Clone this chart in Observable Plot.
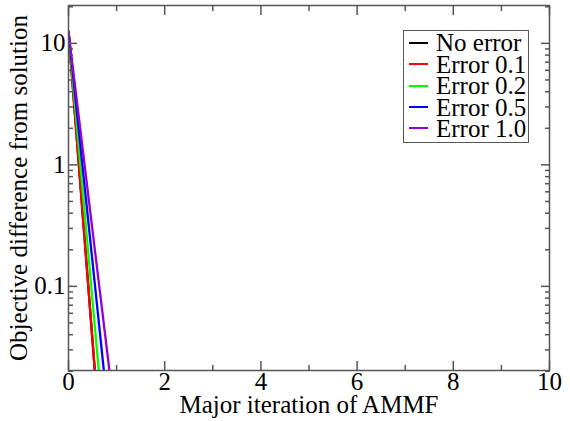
<!DOCTYPE html>
<html>
<head>
<meta charset="utf-8">
<script src="https://cdn.jsdelivr.net/npm/d3@7"></script>
<script src="https://cdn.jsdelivr.net/npm/@observablehq/plot@0.6"></script>
<style>
  body { margin: 0; background: #fff; }
  #wrap { position: relative; width: 570px; height: 421px; font-family: "Liberation Serif", "DejaVu Serif", serif; }
  #legend { position: absolute; left: 403px; top: 30px; width: 124px; height: 111px; border: 1.5px solid #555; background: #fff; box-sizing: content-box; }
  .row { position: absolute; left: 0; height: 21px; display: flex; align-items: center; }
  .sw { width: 19px; height: 2px; margin-left: 5px; margin-right: 8px; }
  .lab { font-size: 25px; line-height: 21px; color: #000; white-space: nowrap; }
</style>
</head>
<body>
<div id="wrap"></div>
<script>
const iterations = [0, 1];
const seriesNames = ["No error", "Error 0.1", "Error 0.2", "Error 0.5", "Error 1.0"];
const seriesColors = ["#000000", "#ff0000", "#00ff00", "#0000ff", "#9400d3"];
const noError  = [12.5, 1.0e-4];
const error01  = [12.5, 1.0e-4];
const error02  = [12.5, 4.6e-4];
const error05  = [12.5, 2.0e-3];
const error10  = [12.5, 6.6e-3];
const xTicks = [0, 2, 4, 6, 8, 10];
const xMinorTicks = [1, 3, 5, 7, 9];
const yTicks = [0.1, 1, 10];
const yTickLabels = ["0.1", "1", "10"];
const yMinorTicks = [0.02,0.03,0.04,0.05,0.06,0.07,0.08,0.09,0.2,0.3,0.4,0.5,0.6,0.7,0.8,0.9,2,3,4,5,6,7,8,9,20];
const xLabel = "Major iteration of AMMF";
const yLabel = "Objective difference from solution";

const allSeries = [noError, error01, error02, error05, error10];
const rows = [];
allSeries.forEach((vals, i) => {
  iterations.forEach((x, j) => rows.push({series: seriesNames[i], x, y: vals[j]}));
});

const axisStroke = "#555";
const fontFam = "Liberation Serif, DejaVu Serif, serif";
const fs = 25;

const chart = Plot.plot({
  width: 570,
  height: 421,
  marginLeft: 68,
  marginRight: 21,
  marginTop: 5,
  marginBottom: 51,
  style: {fontFamily: fontFam, fontSize: fs + "px", color: "#000", background: "#fff"},
  x: {domain: [0, 10]},
  y: {type: "log", domain: [0.0203, 20.5]},
  color: {domain: seriesNames, range: seriesColors},
  marks: [
    Plot.line(rows, {x: "x", y: "y", z: "series", stroke: "series", strokeWidth: 2.3, clip: true}),
    // bottom axis
    Plot.axisX({ticks: xTicks, tickSize: -9, tickPadding: 11, stroke: axisStroke, strokeWidth: 1.5, fontSize: fs, fill: "#000", label: null, tickFormat: d => String(d)}),
    Plot.axisX({ticks: xMinorTicks, tickSize: -5, stroke: axisStroke, strokeWidth: 1.5, tickFormat: () => "", label: null}),
    // top axis
    Plot.axisX({anchor: "top", ticks: xTicks, tickSize: -9, stroke: axisStroke, strokeWidth: 1.5, tickFormat: () => "", label: null}),
    Plot.axisX({anchor: "top", ticks: xMinorTicks, tickSize: -5, stroke: axisStroke, strokeWidth: 1.5, tickFormat: () => "", label: null}),
    // left axis
    Plot.axisY({ticks: yTicks, tickSize: -9, tickPadding: 12, stroke: axisStroke, strokeWidth: 1.5, fontSize: fs, fill: "#000", label: null, tickFormat: d => yTickLabels[yTicks.indexOf(d)] ?? ""}),
    Plot.axisY({ticks: yMinorTicks, tickSize: -5, stroke: axisStroke, strokeWidth: 1.5, tickFormat: () => "", label: null}),
    // right axis
    Plot.axisY({anchor: "right", ticks: yTicks, tickSize: -9, stroke: axisStroke, strokeWidth: 1.5, tickFormat: () => "", label: null}),
    Plot.axisY({anchor: "right", ticks: yMinorTicks, tickSize: -5, stroke: axisStroke, strokeWidth: 1.5, tickFormat: () => "", label: null}),
    Plot.frame({stroke: axisStroke, strokeWidth: 1.5}),
    Plot.text([xLabel], {frameAnchor: "bottom", dy: 34, fontSize: fs, fill: "#000", lineAnchor: "middle", textAnchor: "middle"}),
    Plot.text([yLabel], {frameAnchor: "left", rotate: -90, dx: -50, fontSize: fs, fill: "#000", lineAnchor: "middle", textAnchor: "middle"})
  ]
});

const wrap = document.getElementById("wrap");
wrap.appendChild(chart);

const legend = document.createElement("div");
legend.id = "legend";
seriesNames.forEach((name, i) => {
  const r = document.createElement("div");
  r.className = "row";
  r.style.top = (1.3 + i * 21.4) + "px";
  const sw = document.createElement("div");
  sw.className = "sw";
  sw.style.background = seriesColors[i];
  const lab = document.createElement("span");
  lab.className = "lab";
  lab.textContent = name;
  r.appendChild(sw);
  r.appendChild(lab);
  legend.appendChild(r);
});
wrap.appendChild(legend);
</script>
</body>
</html>
